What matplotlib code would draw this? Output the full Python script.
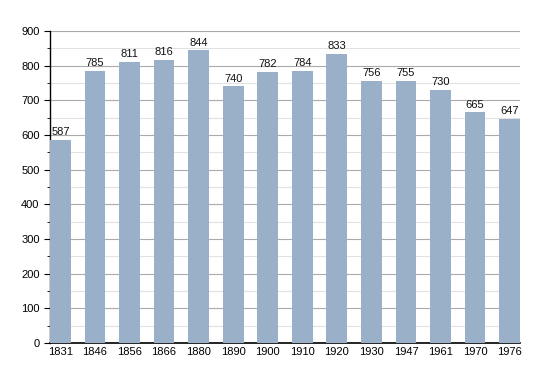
import matplotlib.pyplot as plt
from matplotlib.ticker import MultipleLocator

years = ["1831", "1846", "1856", "1866", "1880", "1890", "1900",
         "1910", "1920", "1930", "1947", "1961", "1970", "1976"]
population = [587, 785, 811, 816, 844, 740, 782, 784, 833, 756, 755, 730, 665, 647]

BAR_COLOR = "#9ab0c9"

plt.rcParams["font.family"] = ["Liberation Sans", "DejaVu Sans"]

fig = plt.figure(figsize=(5.5, 3.73), dpi=100)
ax = fig.add_axes([50 / 550, 1 - 343 / 373, 470 / 550, 312 / 373])

x = range(len(years))
bars = ax.bar(x, population, width=0.6, color=BAR_COLOR, zorder=3)
for bar, val in zip(bars, population):
    ax.text(bar.get_x() + bar.get_width() / 2, val + 8, str(val),
            ha="center", va="bottom", fontsize=8, color="#111111")

ax.set_xlim(-0.3, len(years) - 0.7)
ax.set_ylim(0, 900)
ax.set_xticks(list(x))
ax.set_xticklabels(years)
ax.yaxis.set_major_locator(MultipleLocator(100))
ax.yaxis.set_minor_locator(MultipleLocator(50))
ax.grid(axis="y", which="major", color="#aaaaaa", linewidth=0.8, zorder=0)
ax.grid(axis="y", which="minor", color="#e2e2e2", linewidth=0.8, zorder=0)

ax.spines[["top", "right"]].set_visible(False)
ax.spines["left"].set_linewidth(1.0)
ax.spines["bottom"].set_linewidth(1.2)
ax.tick_params(axis="x", length=0, labelsize=8, pad=3)
ax.tick_params(axis="y", which="major", length=4, labelsize=8, direction="out")
ax.tick_params(axis="y", which="minor", length=2, direction="out")

fig.savefig("out.png", dpi=100)
